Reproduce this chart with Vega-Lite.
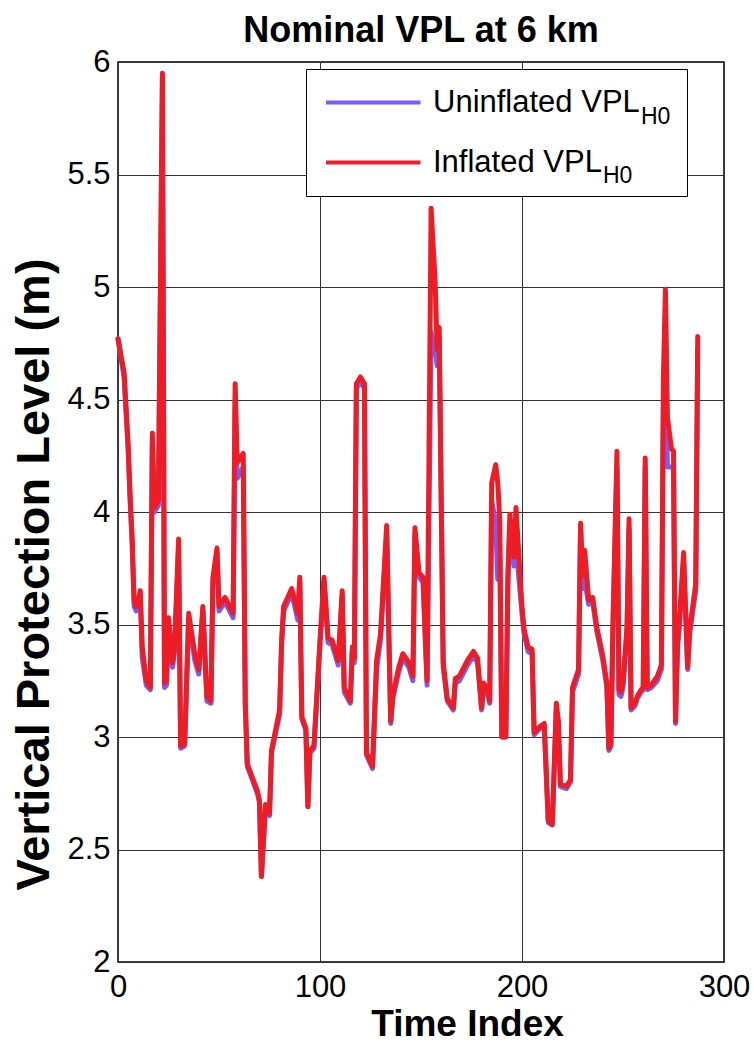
{
  "$schema": "https://vega.github.io/schema/vega-lite/v6.json",
  "width": 606,
  "height": 900,
  "autosize": {"type": "none"},
  "padding": {"left": 118, "top": 62, "right": 30, "bottom": 84},
  "background": "white",
  "title": {
    "text": "Nominal VPL at 6 km",
    "font": "Liberation Sans",
    "fontSize": 36,
    "fontWeight": "bold",
    "color": "black",
    "anchor": "middle",
    "offset": -4
  },
  "config": {
    "view": {"stroke": "black", "strokeWidth": 1.5},
    "axis": {
      "domain": false,
      "ticks": false,
      "grid": true,
      "gridColor": "#333333",
      "gridWidth": 1,
      "gridOpacity": 1,
      "labelFont": "Liberation Sans",
      "labelFontSize": 31,
      "labelColor": "black",
      "titleFont": "Liberation Sans",
      "titleFontWeight": "bold",
      "titleColor": "black"
    }
  },
  "data": {
    "values": [
      {"t": 0, "inflated": 4.77, "uninflated": 4.77},
      {"t": 3, "inflated": 4.62, "uninflated": 4.6},
      {"t": 5, "inflated": 4.3, "uninflated": 4.28},
      {"t": 6, "inflated": 4.07, "uninflated": 4.05},
      {"t": 7, "inflated": 3.88, "uninflated": 3.86},
      {"t": 8, "inflated": 3.6, "uninflated": 3.58},
      {"t": 9, "inflated": 3.58, "uninflated": 3.56},
      {"t": 10, "inflated": 3.6, "uninflated": 3.58},
      {"t": 11, "inflated": 3.65, "uninflated": 3.63},
      {"t": 12, "inflated": 3.4, "uninflated": 3.35},
      {"t": 14, "inflated": 3.25, "uninflated": 3.23},
      {"t": 16, "inflated": 3.22, "uninflated": 3.21},
      {"t": 17, "inflated": 4.35, "uninflated": 4.3},
      {"t": 18, "inflated": 4.02, "uninflated": 4.0},
      {"t": 20, "inflated": 4.05, "uninflated": 4.03},
      {"t": 22, "inflated": 5.95, "uninflated": 5.93},
      {"t": 23, "inflated": 3.24, "uninflated": 3.22},
      {"t": 24, "inflated": 3.25, "uninflated": 3.23},
      {"t": 25, "inflated": 3.53, "uninflated": 3.5},
      {"t": 27, "inflated": 3.33, "uninflated": 3.31},
      {"t": 28, "inflated": 3.4, "uninflated": 3.38},
      {"t": 30, "inflated": 3.88, "uninflated": 3.85},
      {"t": 31, "inflated": 2.96, "uninflated": 2.95},
      {"t": 33, "inflated": 2.97, "uninflated": 2.96},
      {"t": 35, "inflated": 3.55, "uninflated": 3.53},
      {"t": 38, "inflated": 3.37, "uninflated": 3.34},
      {"t": 40, "inflated": 3.3, "uninflated": 3.28},
      {"t": 42, "inflated": 3.58, "uninflated": 3.56},
      {"t": 44, "inflated": 3.18, "uninflated": 3.16},
      {"t": 46, "inflated": 3.16, "uninflated": 3.15},
      {"t": 47, "inflated": 3.71, "uninflated": 3.69},
      {"t": 49, "inflated": 3.84, "uninflated": 3.82},
      {"t": 50, "inflated": 3.58, "uninflated": 3.56},
      {"t": 53, "inflated": 3.62, "uninflated": 3.6},
      {"t": 57, "inflated": 3.55, "uninflated": 3.53},
      {"t": 58, "inflated": 4.57, "uninflated": 4.5},
      {"t": 59, "inflated": 4.22, "uninflated": 4.15},
      {"t": 62, "inflated": 4.26, "uninflated": 4.2},
      {"t": 63, "inflated": 3.16, "uninflated": 3.14},
      {"t": 64, "inflated": 2.88, "uninflated": 2.87},
      {"t": 69, "inflated": 2.76, "uninflated": 2.75},
      {"t": 70, "inflated": 2.72, "uninflated": 2.71},
      {"t": 71, "inflated": 2.38, "uninflated": 2.38},
      {"t": 73, "inflated": 2.7, "uninflated": 2.69},
      {"t": 75, "inflated": 2.66, "uninflated": 2.65},
      {"t": 76, "inflated": 2.94, "uninflated": 2.93},
      {"t": 80, "inflated": 3.12, "uninflated": 3.1},
      {"t": 81, "inflated": 3.43, "uninflated": 3.41},
      {"t": 82, "inflated": 3.58, "uninflated": 3.56},
      {"t": 86, "inflated": 3.66, "uninflated": 3.64},
      {"t": 89, "inflated": 3.55, "uninflated": 3.52},
      {"t": 90, "inflated": 3.71, "uninflated": 3.69},
      {"t": 91, "inflated": 3.09, "uninflated": 3.08},
      {"t": 93, "inflated": 3.04, "uninflated": 3.03},
      {"t": 94, "inflated": 2.69, "uninflated": 2.69},
      {"t": 95, "inflated": 2.94, "uninflated": 2.93},
      {"t": 97, "inflated": 2.96, "uninflated": 2.95},
      {"t": 100, "inflated": 3.43, "uninflated": 3.41},
      {"t": 102, "inflated": 3.71, "uninflated": 3.69},
      {"t": 104, "inflated": 3.44, "uninflated": 3.42},
      {"t": 106, "inflated": 3.43, "uninflated": 3.41},
      {"t": 109, "inflated": 3.34, "uninflated": 3.32},
      {"t": 111, "inflated": 3.65, "uninflated": 3.63},
      {"t": 112, "inflated": 3.22, "uninflated": 3.2},
      {"t": 115, "inflated": 3.16, "uninflated": 3.15},
      {"t": 116, "inflated": 3.4, "uninflated": 3.38},
      {"t": 117, "inflated": 3.35, "uninflated": 3.33},
      {"t": 118, "inflated": 4.57, "uninflated": 4.55},
      {"t": 120, "inflated": 4.6, "uninflated": 4.58},
      {"t": 122, "inflated": 4.57, "uninflated": 4.55},
      {"t": 123, "inflated": 2.93, "uninflated": 2.92},
      {"t": 126, "inflated": 2.87, "uninflated": 2.86},
      {"t": 128, "inflated": 3.34, "uninflated": 3.3},
      {"t": 130, "inflated": 3.46, "uninflated": 3.44},
      {"t": 133, "inflated": 3.94, "uninflated": 3.9},
      {"t": 135, "inflated": 3.07, "uninflated": 3.06},
      {"t": 136, "inflated": 3.18, "uninflated": 3.17},
      {"t": 139, "inflated": 3.31, "uninflated": 3.29},
      {"t": 141, "inflated": 3.37, "uninflated": 3.35},
      {"t": 144, "inflated": 3.33, "uninflated": 3.31},
      {"t": 146, "inflated": 3.27, "uninflated": 3.25},
      {"t": 147, "inflated": 3.93, "uninflated": 3.9},
      {"t": 149, "inflated": 3.73, "uninflated": 3.71},
      {"t": 151, "inflated": 3.71, "uninflated": 3.69},
      {"t": 153, "inflated": 3.25, "uninflated": 3.23},
      {"t": 155, "inflated": 5.35, "uninflated": 4.8},
      {"t": 157, "inflated": 5.02, "uninflated": 4.72},
      {"t": 158, "inflated": 4.72, "uninflated": 4.65},
      {"t": 159, "inflated": 4.82, "uninflated": 4.78},
      {"t": 161, "inflated": 3.33, "uninflated": 3.31},
      {"t": 163, "inflated": 3.17, "uninflated": 3.16},
      {"t": 166, "inflated": 3.13, "uninflated": 3.12},
      {"t": 167, "inflated": 3.26, "uninflated": 3.24},
      {"t": 169, "inflated": 3.27, "uninflated": 3.25},
      {"t": 173, "inflated": 3.34, "uninflated": 3.32},
      {"t": 176, "inflated": 3.38, "uninflated": 3.36},
      {"t": 178, "inflated": 3.35, "uninflated": 3.33},
      {"t": 180, "inflated": 3.13, "uninflated": 3.12},
      {"t": 181, "inflated": 3.24, "uninflated": 3.22},
      {"t": 183, "inflated": 3.21, "uninflated": 3.19},
      {"t": 184, "inflated": 3.16, "uninflated": 3.15},
      {"t": 185, "inflated": 4.13, "uninflated": 4.05},
      {"t": 187, "inflated": 4.21, "uninflated": 3.95},
      {"t": 188, "inflated": 4.13, "uninflated": 3.7},
      {"t": 189, "inflated": 3.96, "uninflated": 3.8},
      {"t": 190, "inflated": 3.0, "uninflated": 3.0},
      {"t": 192, "inflated": 3.0, "uninflated": 3.0},
      {"t": 193, "inflated": 3.71, "uninflated": 3.68},
      {"t": 194, "inflated": 3.99, "uninflated": 3.95},
      {"t": 196, "inflated": 3.8, "uninflated": 3.76},
      {"t": 197, "inflated": 4.02, "uninflated": 3.85},
      {"t": 200, "inflated": 3.58, "uninflated": 3.55},
      {"t": 201, "inflated": 3.48, "uninflated": 3.46},
      {"t": 203, "inflated": 3.4, "uninflated": 3.38},
      {"t": 205, "inflated": 3.39, "uninflated": 3.37},
      {"t": 206, "inflated": 3.02, "uninflated": 3.01},
      {"t": 208, "inflated": 3.04, "uninflated": 3.03},
      {"t": 211, "inflated": 3.06, "uninflated": 3.05},
      {"t": 213, "inflated": 2.63, "uninflated": 2.62},
      {"t": 215, "inflated": 2.61, "uninflated": 2.61},
      {"t": 217, "inflated": 3.15, "uninflated": 3.13},
      {"t": 218, "inflated": 3.07, "uninflated": 3.06},
      {"t": 219, "inflated": 2.79, "uninflated": 2.78},
      {"t": 222, "inflated": 2.78, "uninflated": 2.77},
      {"t": 224, "inflated": 2.81, "uninflated": 2.8},
      {"t": 225, "inflated": 3.22, "uninflated": 3.2},
      {"t": 228, "inflated": 3.3, "uninflated": 3.28},
      {"t": 229, "inflated": 3.95, "uninflated": 3.93},
      {"t": 230, "inflated": 3.72, "uninflated": 3.66},
      {"t": 231, "inflated": 3.83, "uninflated": 3.7},
      {"t": 233, "inflated": 3.61, "uninflated": 3.59},
      {"t": 235, "inflated": 3.62, "uninflated": 3.6},
      {"t": 237, "inflated": 3.49, "uninflated": 3.47},
      {"t": 240, "inflated": 3.36, "uninflated": 3.34},
      {"t": 242, "inflated": 3.24, "uninflated": 3.22},
      {"t": 243, "inflated": 2.95, "uninflated": 2.94},
      {"t": 244, "inflated": 2.97, "uninflated": 2.96},
      {"t": 245, "inflated": 3.49, "uninflated": 3.47},
      {"t": 247, "inflated": 4.27, "uninflated": 4.2},
      {"t": 248, "inflated": 3.21, "uninflated": 3.19},
      {"t": 249, "inflated": 3.2, "uninflated": 3.18},
      {"t": 250, "inflated": 3.24, "uninflated": 3.22},
      {"t": 252, "inflated": 3.49, "uninflated": 3.47},
      {"t": 253, "inflated": 3.97, "uninflated": 3.93},
      {"t": 254, "inflated": 3.13, "uninflated": 3.12},
      {"t": 256, "inflated": 3.15, "uninflated": 3.14},
      {"t": 257, "inflated": 3.18, "uninflated": 3.17},
      {"t": 259, "inflated": 3.21, "uninflated": 3.2},
      {"t": 260, "inflated": 3.22, "uninflated": 3.21},
      {"t": 261, "inflated": 4.24, "uninflated": 4.2},
      {"t": 262, "inflated": 3.22, "uninflated": 3.21},
      {"t": 264, "inflated": 3.23, "uninflated": 3.22},
      {"t": 267, "inflated": 3.27, "uninflated": 3.25},
      {"t": 269, "inflated": 3.32, "uninflated": 3.3},
      {"t": 270, "inflated": 4.6, "uninflated": 4.45},
      {"t": 271, "inflated": 4.99, "uninflated": 4.7},
      {"t": 272, "inflated": 4.42, "uninflated": 4.2},
      {"t": 274, "inflated": 4.28, "uninflated": 4.2},
      {"t": 275, "inflated": 4.27, "uninflated": 4.2},
      {"t": 276, "inflated": 3.07, "uninflated": 3.06},
      {"t": 277, "inflated": 3.42, "uninflated": 3.4},
      {"t": 278, "inflated": 3.53, "uninflated": 3.5},
      {"t": 280, "inflated": 3.82, "uninflated": 3.78},
      {"t": 282, "inflated": 3.31, "uninflated": 3.3},
      {"t": 283, "inflated": 3.48, "uninflated": 3.46},
      {"t": 286, "inflated": 3.68, "uninflated": 3.65},
      {"t": 287, "inflated": 4.78, "uninflated": 4.72}
    ]
  },
  "layer": [
    {
      "mark": {"type": "line", "strokeWidth": 5, "strokeJoin": "round", "strokeCap": "round"},
      "encoding": {
        "x": {
          "field": "t",
          "type": "quantitative",
          "title": "Time Index",
          "scale": {"domain": [0, 300], "nice": false, "zero": false},
          "axis": {"values": [0, 100, 200, 300], "labelPadding": 10, "titlePadding": 4, "labelFlush": false, "titleFontSize": 37, "titleX": 349}
        },
        "y": {
          "field": "uninflated",
          "type": "quantitative",
          "title": "Vertical Protection Level (m)",
          "scale": {"domain": [2, 6], "nice": false, "zero": false},
          "axis": {"values": [2, 2.5, 3, 3.5, 4, 4.5, 5, 5.5, 6], "format": "~g", "labelPadding": 8, "titlePadding": 8, "titleFontSize": 47, "titleY": 512}
        },
        "color": {
          "datum": "Uninflated VPL",
          "scale": {"domain": ["Uninflated VPL", "Inflated VPL"], "range": ["#7B5CF0", "#EE1C24"]},
          "legend": {
            "orient": "none",
            "legendX": 188,
            "legendY": 7,
            "title": null,
            "symbolType": "M-1,0H6M23.8,0",
            "symbolSize": 729,
            "symbolStrokeWidth": 4,
            "labelFont": "Liberation Sans",
            "labelFontSize": 31,
            "labelColor": "black",
            "labelOffset": 78,
            "labelLimit": 400,
            "rowPadding": 28,
            "padding": 18,
            "strokeColor": "black",
            "fillColor": "white"
          }
        },
        "opacity": {
          "datum": "uninflated subscript",
          "type": "ordinal",
          "scale": {"range": [1, 1]},
          "legend": {
            "orient": "none",
            "legendX": 500,
            "legendY": 50,
            "title": null,
            "symbolSize": 0,
            "symbolStrokeWidth": 0,
            "symbolOpacity": 0,
            "labelOffset": 0,
            "padding": 0,
            "labelFont": "Liberation Sans",
            "labelFontSize": 23,
            "labelColor": "black",
            "labelBaseline": "alphabetic",
            "labelExpr": "'H0'"
          }
        }
      }
    },
    {
      "mark": {"type": "line", "strokeWidth": 5, "strokeJoin": "round", "strokeCap": "round"},
      "encoding": {
        "x": {"field": "t", "type": "quantitative"},
        "y": {"field": "inflated", "type": "quantitative"},
        "color": {"datum": "Inflated VPL"},
        "strokeWidth": {
          "datum": "inflated subscript",
          "type": "ordinal",
          "scale": {"range": [5, 5]},
          "legend": {
            "orient": "none",
            "legendX": 462,
            "legendY": 109,
            "title": null,
            "symbolSize": 0,
            "symbolStrokeWidth": 0,
            "symbolOpacity": 0,
            "labelOffset": 0,
            "padding": 0,
            "labelFont": "Liberation Sans",
            "labelFontSize": 23,
            "labelColor": "black",
            "labelBaseline": "alphabetic",
            "labelExpr": "'H0'"
          }
        }
      }
    }
  ]
}
